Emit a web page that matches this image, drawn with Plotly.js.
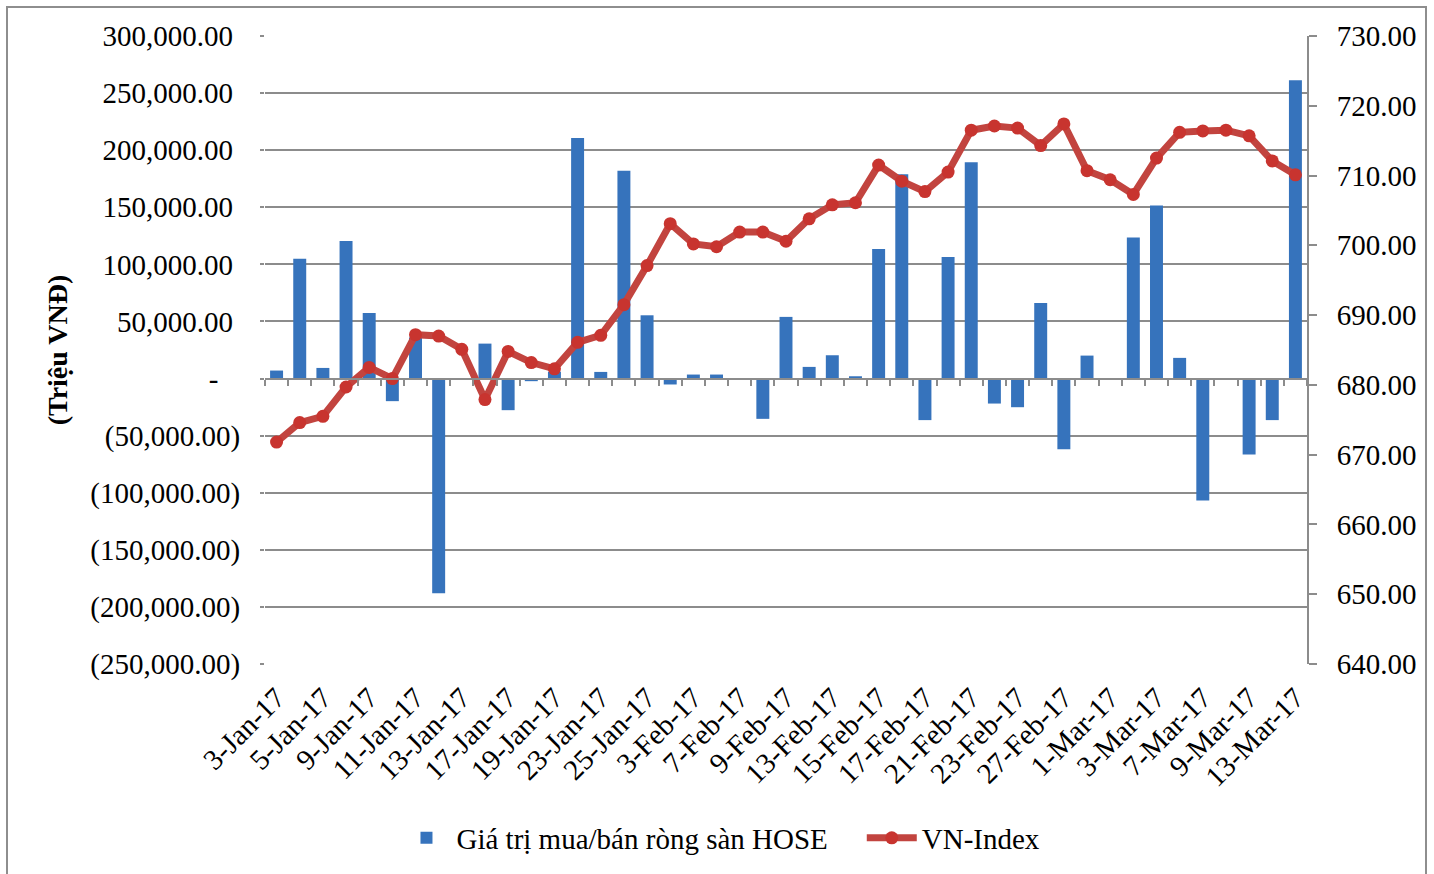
<!DOCTYPE html>
<html>
<head>
<meta charset="utf-8">
<script src="https://cdn.plot.ly/plotly-3.0.1.min.js"></script>
<style>
  html, body { margin: 0; padding: 0; background: #ffffff; overflow: hidden; }
  #chart { width: 1434px; height: 874px; position: absolute; left: 0; top: 0; }
  #frame { position: absolute; left: 6px; top: 6px; width: 1421px; height: 900px;
           border: 2px solid #8e8e8e; box-sizing: border-box; pointer-events: none; }
</style>
</head>
<body>
<div id="chart"></div>
<div id="frame"></div>
<script>
// Trading days (categories)
const dates = [
  "3-Jan-17","4-Jan-17","5-Jan-17","6-Jan-17","9-Jan-17","10-Jan-17","11-Jan-17","12-Jan-17",
  "13-Jan-17","16-Jan-17","17-Jan-17","18-Jan-17","19-Jan-17","20-Jan-17","23-Jan-17","24-Jan-17",
  "25-Jan-17","2-Feb-17","3-Feb-17","6-Feb-17","7-Feb-17","8-Feb-17","9-Feb-17","10-Feb-17",
  "13-Feb-17","14-Feb-17","15-Feb-17","16-Feb-17","17-Feb-17","20-Feb-17","21-Feb-17","22-Feb-17",
  "23-Feb-17","24-Feb-17","27-Feb-17","28-Feb-17","1-Mar-17","2-Mar-17","3-Mar-17","6-Mar-17",
  "7-Mar-17","8-Mar-17","9-Mar-17","10-Mar-17","13-Mar-17"
];

// Net buy/sell value on HOSE (million VND)
const netValue = [
  7000, 105000, 9300, 120500, 57500, -19800, 36000, -188000,
  500, 30600, -27700, -2300, 6000, 210700, 5800, 182000,
  55400, -5200, 3500, 3500, 200, -35300, 54000, 10200,
  20400, 2000, 113400, 179000, -36400, 106400, 189500, -21900,
  -25100, 66200, -62000, 20100, 300, 123600, 151600, 18100,
  -106700, -300, -66500, -36400, 261200
];

// VN-Index
const vnIndex = [
  671.8, 674.6, 675.5, 679.7, 682.5, 680.9, 687.2, 687.0,
  685.1, 677.9, 684.8, 683.2, 682.3, 686.1, 687.1, 691.5,
  697.1, 703.1, 700.2, 699.8, 701.9, 701.9, 700.6, 703.8,
  705.8, 706.1, 711.5, 709.2, 707.7, 710.5, 716.5, 717.1,
  716.8, 714.3, 717.4, 710.7, 709.4, 707.3, 712.5, 716.2,
  716.4, 716.5, 715.7, 712.1, 710.1
];

// Axis ticks
const shownDates = ["3-Jan-17","5-Jan-17","9-Jan-17","11-Jan-17","13-Jan-17","17-Jan-17","19-Jan-17",
  "23-Jan-17","25-Jan-17","3-Feb-17","7-Feb-17","9-Feb-17","13-Feb-17","15-Feb-17","17-Feb-17",
  "21-Feb-17","23-Feb-17","27-Feb-17","1-Mar-17","3-Mar-17","7-Mar-17","9-Mar-17","13-Mar-17"];
const leftTickVals = [-250000,-200000,-150000,-100000,-50000,0,50000,100000,150000,200000,250000,300000];
const leftTickText = ["(250,000.00)","(200,000.00)","(150,000.00)","(100,000.00)","(50,000.00)",
  "-\u00a0\u00a0\u00a0",
  "50,000.00\u00a0","100,000.00\u00a0","150,000.00\u00a0","200,000.00\u00a0","250,000.00\u00a0","300,000.00\u00a0"];
const rightTickVals = [640,650,660,670,680,690,700,710,720,730];
const rightTickText = ["640.00","650.00","660.00","670.00","680.00","690.00","700.00","710.00","720.00","730.00"];
const boundaryTicks = dates.map((d, i) => i - 0.5).concat([dates.length - 0.5]);

const FONT = '"Liberation Serif", "Times New Roman", serif';
const GRID = '#8c8c8c';

const traces = [
  {
    type: 'bar', name: 'Giá trị mua/bán ròng sàn HOSE\u00a0\u00a0\u00a0\u00a0',
    x: dates, y: netValue, xaxis: 'x', yaxis: 'y',
    marker: { color: '#3673bc', line: { width: 0 } },
    hoverinfo: 'x+y'
  },
  {
    type: 'scatter', mode: 'lines+markers', name: 'VN-Index',
    x: dates, y: vnIndex, xaxis: 'x', yaxis: 'y2',
    line: { color: '#c2443f', width: 7 },
    marker: { color: '#c8342f', size: 13 },
    hoverinfo: 'x+y'
  },
  {
    // carrier for the category-boundary axis drawn along the zero line
    type: 'scatter', mode: 'none', x: [], y: [], xaxis: 'x2', yaxis: 'y',
    showlegend: false, hoverinfo: 'skip'
  }
];

const layout = {
  width: 1434, height: 874,
  margin: { l: 265, r: 127, t: 36, b: 209 },
  paper_bgcolor: '#ffffff', plot_bgcolor: '#ffffff',
  font: { family: FONT, size: 28, color: '#000000' },
  bargap: 0.44,
  showlegend: true,
  legend: {
    orientation: 'h', x: 0.4376, xanchor: 'center', y: -0.275, yanchor: 'middle',
    font: { family: FONT, size: 29, color: '#000' }, itemwidth: 50, traceorder: 'normal'
  },
  xaxis: {
    type: 'category', range: [-0.5, dates.length - 0.5],
    tickvals: shownDates, ticktext: shownDates, tickangle: -45,
    showgrid: false, showline: false, zeroline: false, ticks: '',
    ticklabelstandoff: 10,
    tickfont: { family: FONT, size: 29, color: '#000' }
  },
  xaxis2: {
    overlaying: 'x', anchor: 'free', position: 250000 / 550000, side: 'bottom',
    range: [-0.5, dates.length - 0.5], type: 'linear',
    tickvals: boundaryTicks, showticklabels: false,
    ticks: 'outside', ticklen: 6, tickwidth: 2, tickcolor: GRID,
    showline: true, linecolor: GRID, linewidth: 2, showgrid: false, zeroline: false
  },
  yaxis: {
    range: [-250000, 300000], tickvals: leftTickVals, ticktext: leftTickText,
    showgrid: true, gridcolor: GRID, gridwidth: 2,
    zeroline: true, zerolinecolor: GRID, zerolinewidth: 2,
    showline: false, ticks: 'outside', ticklen: 4, tickcolor: GRID, tickwidth: 2,
    ticklabelstandoff: 14,
    tickfont: { family: FONT, size: 29, color: '#000' },
    title: { text: '<b>(Triệu VNĐ)</b>', font: { family: FONT, size: 28, color: '#000' }, standoff: 14 }
  },
  yaxis2: {
    overlaying: 'y', side: 'right', range: [640, 730],
    tickvals: rightTickVals, ticktext: rightTickText,
    showgrid: false, zeroline: false,
    showline: true, linecolor: GRID, linewidth: 2,
    ticks: 'outside', ticklen: 8, tickcolor: GRID, tickwidth: 2,
    ticklabelstandoff: 14,
    tickfont: { family: FONT, size: 29, color: '#000' }
  }
};

Plotly.newPlot('chart', traces, layout, { displayModeBar: false, staticPlot: true });
</script>
</body>
</html>
